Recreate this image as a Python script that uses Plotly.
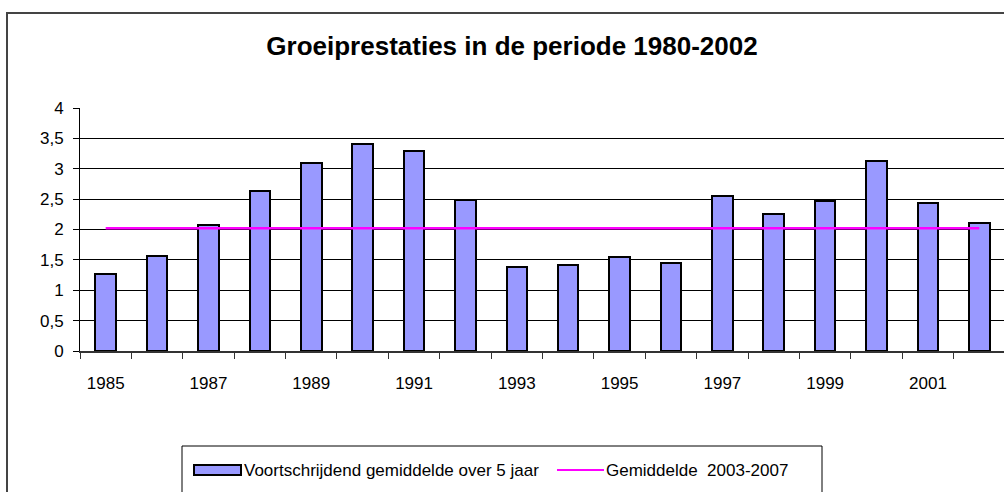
import plotly.graph_objects as go

years = list(range(1985, 2003))
moving_avg = [1.26, 1.57, 2.07, 2.63, 3.09, 3.41, 3.29, 2.49, 1.39, 1.41,
              1.54, 1.45, 2.55, 2.26, 2.47, 3.13, 2.43, 2.10]
avg_2003_2007 = 2.02
tick_years = [1985, 1987, 1989, 1991, 1993, 1995, 1997, 1999, 2001]
y_ticks = [0, 0.5, 1, 1.5, 2, 2.5, 3, 3.5, 4]
y_tick_text = ["0", "0,5", "1", "1,5", "2", "2,5", "3", "3,5", "4"]

title_text = "Groeiprestaties in de periode 1980-2002"
bar_name = "Voortschrijdend gemiddelde over 5 jaar"
line_name = "Gemiddelde  2003-2007"

W, H = 1004, 492
L, R, T, B = 80, 0, 108, 141
PW, PH = W - L - R, H - T - B

def px(x):
    return (x - L) / PW

def py(y):
    return (H - B - y) / PH

FONT = "Liberation Sans, Arial, sans-serif"

fig = go.Figure()
fig.add_trace(go.Bar(
    x=years, y=moving_avg, width=0.4, name=bar_name,
    marker=dict(color="#9999FF", line=dict(color="#000000", width=2)),
    showlegend=False,
))
fig.add_trace(go.Scatter(
    x=years, y=[avg_2003_2007] * len(years), mode="lines", name=line_name,
    line=dict(color="#FF00FF", width=2.5), showlegend=False,
))

shapes = [
    # outer chart border (cropped at right and bottom)
    dict(type="rect", xref="paper", yref="paper",
         x0=px(7), x1=px(1010), y0=py(13), y1=py(520),
         line=dict(color="#444444", width=2), layer="below"),
    # legend box
    dict(type="rect", xref="paper", yref="paper",
         x0=px(182), x1=px(822), y0=py(446), y1=py(520),
         line=dict(color="#000000", width=1), fillcolor="white", layer="below"),
    # legend bar swatch
    dict(type="rect", xref="paper", yref="paper",
         x0=px(194), x1=px(241), y0=py(465), y1=py(475),
         line=dict(color="#000000", width=2), fillcolor="#9999FF"),
    # legend line swatch
    dict(type="line", xref="paper", yref="paper",
         x0=px(557), x1=px(604), y0=py(470), y1=py(470),
         line=dict(color="#FF00FF", width=2)),
]

annotations = [
    dict(text=bar_name, xref="paper", yref="paper", x=px(242), y=py(470),
         xanchor="left", yanchor="middle", showarrow=False,
         font=dict(family=FONT, size=17, color="#000000")),
    dict(text=line_name, xref="paper", yref="paper", x=px(604), y=py(470),
         xanchor="left", yanchor="middle", showarrow=False,
         font=dict(family=FONT, size=17, color="#000000")),
]

fig.update_layout(
    width=W, height=H,
    margin=dict(l=L, r=R, t=T, b=B, autoexpand=False),
    paper_bgcolor="white", plot_bgcolor="white",
    title=dict(text="<b>" + title_text + "</b>", x=512 / W, xref="container",
               y=1 - 46 / H, yref="container", xanchor="center", yanchor="middle",
               font=dict(family=FONT, size=26, color="#000000")),
    font=dict(family=FONT, size=17, color="#000000"),
    shapes=shapes, annotations=annotations,
    bargap=0,
)
fig.update_xaxes(
    range=[1984.5, 1984.5 + PW / 51.39],
    tickvals=tick_years, ticktext=[str(y) for y in tick_years],
    ticks="outside", ticklen=0, tickcolor="rgba(0,0,0,0)",
    ticklabelstandoff=16,
    minor=dict(tickvals=[y - 0.5 for y in years] + [2002.5], ticks="outside",
               ticklen=6, tickcolor="#333333", tickwidth=1),
    showline=True, linecolor="#333333", linewidth=2,
    showgrid=False, zeroline=False,
    tickfont=dict(family=FONT, size=17, color="#000000"),
)
fig.update_yaxes(
    range=[0, 4], tickvals=y_ticks, ticktext=y_tick_text,
    ticks="outside", ticklen=6, tickcolor="#000000", tickwidth=1,
    ticklabelstandoff=6,
    showline=True, linecolor="#000000", linewidth=1,
    showgrid=True, gridcolor="#000000", gridwidth=1, zeroline=False,
    tickfont=dict(family=FONT, size=17, color="#000000"),
)

fig.write_html("out.html", config={"displayModeBar": False},
               post_script="document.body.style.margin='0px';")
